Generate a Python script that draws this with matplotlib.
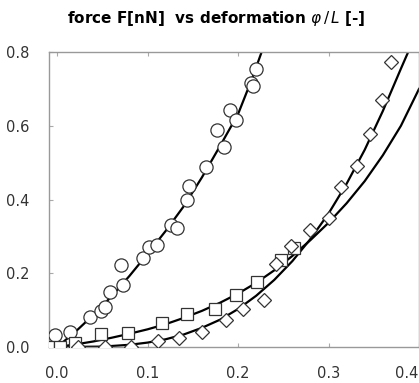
import matplotlib
matplotlib.use("Agg")
import matplotlib.pyplot as plt
import matplotlib.transforms as mtransforms

# measured points (deformation, force)
circle_x = [-0.002, 0.014, 0.036, 0.049, 0.053, 0.058, 0.071, 0.073, 0.095, 0.102,
            0.110, 0.126, 0.133, 0.143, 0.146, 0.165, 0.177, 0.184, 0.191, 0.198,
            0.214, 0.216, 0.220]
circle_y = [0.033, 0.041, 0.081, 0.098, 0.108, 0.149, 0.222, 0.168, 0.241, 0.271,
            0.276, 0.331, 0.322, 0.398, 0.436, 0.488, 0.588, 0.542, 0.642, 0.615,
            0.715, 0.707, 0.753]

square_x = [-0.010, 0.003, 0.020, 0.048, 0.078, 0.116, 0.143, 0.174, 0.198, 0.221,
            0.247, 0.262]
square_y = [0.0, 0.0, 0.011, 0.035, 0.038, 0.065, 0.089, 0.103, 0.141, 0.176,
            0.236, 0.268]

diamond_x = [0.023, 0.053, 0.082, 0.111, 0.135, 0.160, 0.187, 0.205, 0.229, 0.242,
             0.259, 0.280, 0.300, 0.314, 0.331, 0.346, 0.359, 0.369]
diamond_y = [0.0, 0.0, 0.0, 0.016, 0.024, 0.041, 0.073, 0.103, 0.127, 0.225,
             0.274, 0.317, 0.350, 0.434, 0.491, 0.577, 0.669, 0.772]

# fitted curves
fit_c_x = [0.0, 0.02, 0.04, 0.06, 0.08, 0.10, 0.12, 0.14, 0.16, 0.18, 0.20, 0.215, 0.226]
fit_c_y = [0.0, 0.041, 0.087, 0.137, 0.193, 0.253, 0.315, 0.382, 0.46, 0.545, 0.632, 0.725, 0.80]

fit_s_x = [0.0, 0.02, 0.04, 0.06, 0.08, 0.10, 0.12, 0.14, 0.16, 0.18, 0.20, 0.22,
           0.24, 0.26, 0.28, 0.30, 0.32, 0.34, 0.36, 0.38, 0.40]
fit_s_y = [0.0, 0.007, 0.015, 0.025, 0.036, 0.048, 0.062, 0.079, 0.098, 0.12, 0.145,
           0.174, 0.208, 0.247, 0.29, 0.337, 0.39, 0.45, 0.52, 0.60, 0.70]

fit_d_x = [0.0, 0.05, 0.08, 0.10, 0.12, 0.14, 0.16, 0.18, 0.20, 0.22, 0.24, 0.26,
           0.28, 0.30, 0.32, 0.34, 0.36, 0.38, 0.388]
fit_d_y = [0.0, 0.001, 0.006, 0.012, 0.021, 0.034, 0.052, 0.074, 0.103, 0.139, 0.182,
           0.233, 0.293, 0.362, 0.443, 0.535, 0.64, 0.755, 0.80]

x_ticks = [0.0, 0.1, 0.2, 0.3, 0.4]
y_ticks = [0.0, 0.2, 0.4, 0.6, 0.8]

fig = plt.figure(figsize=(4.19, 3.83), dpi=100)
ax = fig.add_axes([0.117, 0.094, 0.883, 0.77])

line_kw = dict(color="black", linewidth=1.6, zorder=2)
ax.plot(fit_c_x, fit_c_y, **line_kw)
ax.plot(fit_s_x, fit_s_y, **line_kw)
ax.plot(fit_d_x, fit_d_y, **line_kw)

mk = dict(linestyle="none", markerfacecolor="white", markeredgecolor="#333333",
          markeredgewidth=0.9, zorder=3)
ax.plot(circle_x, circle_y, marker="o", markersize=9.5, **mk)
ax.plot(square_x, square_y, marker="s", markersize=8, **mk)
ax.plot(diamond_x, diamond_y, marker="D", markersize=7, **mk)

ax.set_xlim(-0.009, 0.399)
ax.set_ylim(0.0, 0.8)
ax.set_xticks(x_ticks)
ax.set_xticklabels([f"{v:.1f}" for v in x_ticks])
ax.set_yticks(y_ticks)
ax.set_yticklabels([f"{v:.1f}" for v in y_ticks])
ax.tick_params(direction="in", length=3, color="#aaaaaa", labelsize=10.5,
               labelcolor="#333333", top=True)
ax.tick_params(axis="x", pad=14)
ax.tick_params(axis="y", pad=14)
for sp in ax.spines.values():
    sp.set_color("#999999")
    sp.set_linewidth(1.0)

# last x label sits against the right edge, nudge it inside
last = ax.get_xticklabels()[-1]
last.set_transform(last.get_transform() +
                   mtransforms.ScaledTranslation(-9 / 72, 0, fig.dpi_scale_trans))

fig.text(0.515, 0.952, r"force F[nN]  vs deformation $\varphi\,/\,L$ [-]",
         ha="center", va="center", fontsize=11, fontweight="bold")

fig.savefig("out.png", dpi=100)
